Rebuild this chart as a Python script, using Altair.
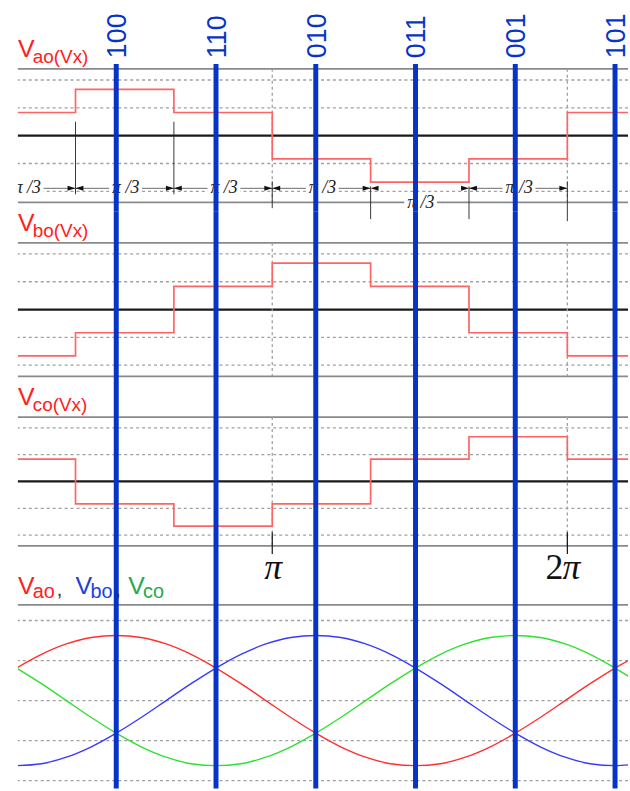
import altair as alt
import pandas as pd

# ---- data -------------------------------------------------------------
# switching-state vectors and the electrical angle (deg) where each sits
vector_labels = ["100", "110", "010", "011", "001", "101"]
vector_angles = [90, 150, 210, 270, 330, 390]

# six-step phase-to-midpoint voltages, level in units of Vdc/3,
# each level holding from its angle until the next one
step_angles = [0, 60, 120, 180, 240, 300, 360, 420]
vao_levels = [1, 2, 1, -1, -2, -1, 1, 1]
vbo_levels = [-2, -1, 1, 2, 1, -1, -2, -2]
vco_levels = [1, -1, -2, -1, 1, 2, 1, 1]

# pi/3 interval annotations (start, end, row)
span_start = [0, 60, 120, 180, 240, 300]
span_end = [60, 120, 180, 240, 300, 360]
span_row = [0, 0, 0, 0, 1, 0]

pi_angles = [180, 360]

# reference sinusoids, sampled every 15 deg
sine_angles = list(range(30, 406, 15))
vao_sine = [0.50, 0.71, 0.87, 0.97, 1.00, 0.97, 0.87, 0.71, 0.50, 0.26, 0.00, -0.26, -0.50,
            -0.71, -0.87, -0.97, -1.00, -0.97, -0.87, -0.71, -0.50, -0.26, 0.00, 0.26, 0.50, 0.71]
vbo_sine = [-1.00, -0.97, -0.87, -0.71, -0.50, -0.26, 0.00, 0.26, 0.50, 0.71, 0.87, 0.97, 1.00,
            0.97, 0.87, 0.71, 0.50, 0.26, 0.00, -0.26, -0.50, -0.71, -0.87, -0.97, -1.00, -0.97]
vco_sine = [0.50, 0.26, 0.00, -0.26, -0.50, -0.71, -0.87, -0.97, -1.00, -0.97, -0.87, -0.71, -0.50,
            -0.26, 0.00, 0.26, 0.50, 0.71, 0.87, 0.97, 1.00, 0.97, 0.87, 0.71, 0.50, 0.26]

# ---- style ------------------------------------------------------------
W = 614
BLUE = "#0634c9"
STEP_RED = "#ff6464"
LABEL_RED = "#ff2020"
GRID = "#a0a0a0"
BORDER = "#8a8a8a"
SANS = "Liberation Sans"
SERIF = "Liberation Serif"
ARROW_R = "M -1.6 -0.5 L 0 0 L -1.6 0.5 Z"
ARROW_L = "M 1.6 -0.5 L 0 0 L 1.6 0.5 Z"

# the step waveforms and the sinusoids use slightly different angle axes
STEP_DOM = [24.85, 397.0]
VEC_DOM = [30.84, 397.8]
STEP_X = alt.Scale(domain=STEP_DOM, nice=False, zero=False)
VEC_X = alt.Scale(domain=VEC_DOM, nice=False, zero=False)
# maps a vector angle onto the step-waveform axis
TO_STEP = "{s0} + (datum.angle - {v0}) * {k}".format(
    s0=STEP_DOM[0], v0=VEC_DOM[0],
    k=(STEP_DOM[1] - STEP_DOM[0]) / (VEC_DOM[1] - VEC_DOM[0]))


def y_scale(center, height, ppu):
    return alt.Scale(domain=[-(height - center) / ppu, center / ppu], nice=False, zero=False)


def one_row():
    return alt.InlineData(values=[{"k": 0}])


def hrules(values, ys, **style):
    return alt.Chart(pd.DataFrame({"v": values})).mark_rule(**style).encode(
        y=alt.Y("v:Q", scale=ys, axis=None))


def label(text, x, y, size, color, **kw):
    return alt.Chart(one_row()).mark_text(
        text=text, align="left", baseline="alphabetic", font=SANS,
        fontSize=size, color=color, **kw).encode(x=alt.value(x), y=alt.value(y))


vec_df = pd.DataFrame({"angle": vector_angles, "name": vector_labels})


def vector_rules_on_steps(top=None, bottom=None):
    enc = dict(x=alt.X("pos:Q", scale=STEP_X, axis=None))
    if top is not None:
        enc["y"] = alt.value(top)
        enc["y2"] = alt.value(bottom)
    return alt.Chart(vec_df).transform_calculate(pos=TO_STEP).mark_rule(
        color=BLUE, strokeWidth=5).encode(**enc)


def step_panel(levels, height, center, ppu, sub, extras, blue_top=None, top_extras=()):
    ys = y_scale(center, height, ppu)
    df = pd.DataFrame({"angle": step_angles, "v": [l / 3 for l in levels]})
    base = [
        hrules([-0.8, -0.4, 0.4, 0.8], ys, color=GRID, strokeWidth=1.3, strokeDash=[3, 3]),
        hrules([-0.96, 0.96], ys, color=BORDER, strokeWidth=1.8),
        hrules([0], ys, color="#1a1a1a", strokeWidth=2.2),
        alt.Chart(pd.DataFrame({"angle": pi_angles, "top": [0.96] * 2, "bot": [-0.96] * 2}))
        .mark_rule(color=GRID, strokeWidth=1.3, strokeDash=[3, 3]).encode(
            x=alt.X("angle:Q", scale=STEP_X, axis=None),
            y=alt.Y("top:Q", scale=ys, axis=None), y2="bot:Q"),
    ]
    base += extras
    base += [
        alt.Chart(df).mark_line(interpolate="step-after", clip=True, color=STEP_RED,
                                strokeWidth=1.7).encode(
            x=alt.X("angle:Q", scale=STEP_X, axis=None),
            y=alt.Y("v:Q", scale=ys, axis=None)),
        vector_rules_on_steps(blue_top, height if blue_top is not None else None),
        label("V", 0, center - ppu * 0.96 - 12, 25, LABEL_RED),
        label(sub, 15, center - ppu * 0.96 - 6, 19, LABEL_RED),
    ]
    base += list(top_extras)
    return alt.layer(*base).properties(width=W, height=height)


# ---- pi/3 interval annotations on the first panel ---------------------
spans = pd.DataFrame({"start": span_start, "end": span_end, "row": span_row})


def guide(angles, top, bottom):
    return alt.Chart(pd.DataFrame({"angle": angles})).mark_rule(
        color="#222", strokeWidth=0.9).encode(
        x=alt.X("angle:Q", scale=STEP_X, axis=None),
        y=alt.value(top), y2=alt.value(bottom))


def span_text(row, y):
    sel = spans[spans.row == row]
    mask = alt.Chart(sel).transform_calculate(
        lo="(datum.start + datum.end) / 2 - 9.5",
        hi="(datum.start + datum.end) / 2 + 10.5").mark_rect(color="white", clip=True).encode(
        x=alt.X("lo:Q", scale=STEP_X, axis=None), x2="hi:Q",
        y=alt.value(y - 9), y2=alt.value(y + 8))
    txt = alt.Chart(sel).transform_calculate(
        mid="(datum.start + datum.end) / 2").mark_text(
        text="π /3", font=SERIF, fontStyle="italic", fontSize=18, color="#222",
        baseline="middle", clip=True, dx=1).encode(
        x=alt.X("mid:Q", scale=STEP_X, axis=None), y=alt.value(y))
    return [mask, txt]


ARROW_Y = 187
annot = [
    guide([60, 120], 120, 193),
    guide([180], 180, 207),
    guide([240, 300], 185, 218),
    guide([360], 180, 220),
    alt.Chart(spans[spans.row == 0]).mark_rule(color="#444", strokeWidth=0.8, clip=True).encode(
        x=alt.X("start:Q", scale=STEP_X, axis=None), x2="end:Q", y=alt.value(ARROW_Y)),
]
annot += span_text(0, ARROW_Y)
annot += span_text(1, 202)
annot += [
    alt.Chart(spans).mark_point(shape=ARROW_R, filled=True, size=100, color="#111",
                                opacity=1, strokeWidth=0).encode(
        x=alt.X("end:Q", scale=STEP_X, axis=None), y=alt.value(ARROW_Y)),
    alt.Chart(spans[spans.start > 0]).mark_point(shape=ARROW_L, filled=True, size=100,
                                                 color="#111", opacity=1, strokeWidth=0).encode(
        x=alt.X("start:Q", scale=STEP_X, axis=None), y=alt.value(ARROW_Y)),
]

top_labels = alt.Chart(vec_df).transform_calculate(pos=TO_STEP).mark_text(
    angle=270, align="left", baseline="middle", dy=2, font=SANS, fontSize=27, color=BLUE).encode(
    x=alt.X("pos:Q", scale=STEP_X, axis=None), y=alt.value(56), text="name:N")

p1 = step_panel(vao_levels, 210, 134, 70, "ao(Vx)", annot, blue_top=62, top_extras=[top_labels])
p2 = step_panel(vbo_levels, 175, 99, 70, "bo(Vx)", [])

# pi and 2pi marks under the third panel
pi_df = pd.DataFrame({"angle": pi_angles})
pi_marks = [
    alt.Chart(pi_df).mark_rule(color="#111", strokeWidth=1.2).encode(
        x=alt.X("angle:Q", scale=STEP_X, axis=None), y=alt.value(148), y2=alt.value(170)),
    alt.Chart(pi_df[pi_df.angle == pi_angles[0]]).mark_text(
        text="π", font=SERIF, fontStyle="italic", fontSize=36, color="#111",
        align="center", baseline="alphabetic", dx=1).encode(
        x=alt.X("angle:Q", scale=STEP_X, axis=None), y=alt.value(195)),
    alt.Chart(pi_df[pi_df.angle == pi_angles[1]]).mark_text(
        text="2", font=SERIF, fontSize=36, color="#111",
        align="right", baseline="alphabetic", dx=-4).encode(
        x=alt.X("angle:Q", scale=STEP_X, axis=None), y=alt.value(195)),
    alt.Chart(pi_df[pi_df.angle == pi_angles[1]]).mark_text(
        text="π", font=SERIF, fontStyle="italic", fontSize=36, color="#111",
        align="left", baseline="alphabetic", dx=-5).encode(
        x=alt.X("angle:Q", scale=STEP_X, axis=None), y=alt.value(195)),
]
p3 = step_panel(vco_levels, 190, 97, 67.5, "co(Vx)", pi_marks)

# ---- sinusoidal references -------------------------------------------
H4, C4, PPU4 = 216, 127.5, 65.5
ys4 = y_scale(C4, H4, PPU4)
sines = pd.DataFrame({
    "angle": sine_angles * 3,
    "v": vao_sine + vbo_sine + vco_sine,
    "phase": ["a"] * len(sine_angles) + ["b"] * len(sine_angles) + ["c"] * len(sine_angles),
})
p4 = alt.layer(
    hrules([-1.23, -0.615, 0, 0.615, 1.23], ys4, color=GRID, strokeWidth=1.3, strokeDash=[3, 3]),
    hrules([1.47], ys4, color=BORDER, strokeWidth=1.8),
    alt.Chart(sines).mark_line(interpolate="monotone", clip=True, strokeWidth=1.4).encode(
        x=alt.X("angle:Q", scale=VEC_X, axis=None),
        y=alt.Y("v:Q", scale=ys4, axis=None),
        color=alt.Color("phase:N", scale=alt.Scale(domain=["a", "b", "c"],
                                                   range=["#ff3030", "#3a3aff", "#30e030"]),
                        legend=None)),
    alt.Chart(vec_df).mark_rule(color=BLUE, strokeWidth=5).encode(
        x=alt.X("angle:Q", scale=VEC_X, axis=None)),
    label("V", 0, 20, 25, LABEL_RED),
    label("ao", 15, 24, 20, LABEL_RED),
    label(",", 39, 22, 20, "#333"),
    label("V", 58, 20, 25, "#2040e0"),
    label("bo", 73, 24, 20, "#2040e0"),
    label(",", 98, 22, 20, "#333"),
    label("V", 111, 20, 25, "#1faa4a"),
    label("co", 126, 24, 20, "#1faa4a"),
).properties(width=W, height=H4)

chart = alt.vconcat(p1, p2, p3, p4, spacing=0, bounds="flush").properties(
    padding={"left": 16, "right": 0, "top": 0, "bottom": 0},
    background="white",
).configure_view(strokeWidth=0)

chart.save("out.html", embed_options={"renderer": "svg", "actions": False})
